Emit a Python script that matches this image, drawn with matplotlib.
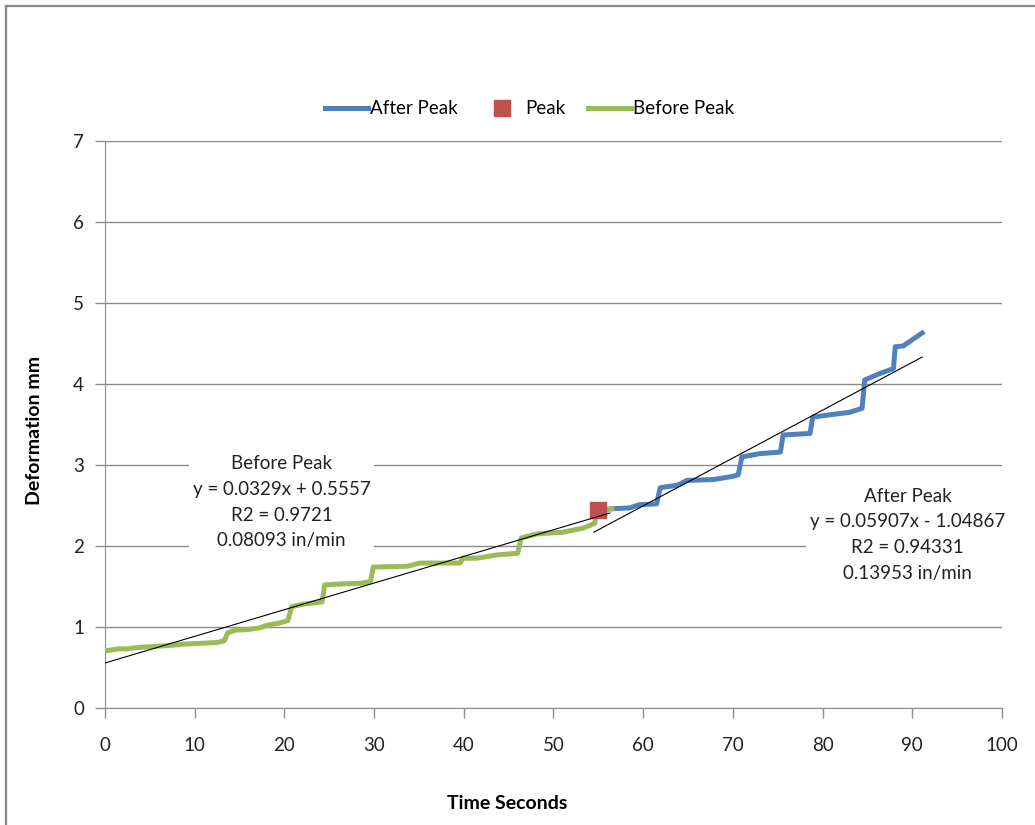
#!/usr/bin/env python3
# -*- coding: utf-8 -*-
"""
Deformation vs time, before / after peak with linear trendlines
"""
# %% imports
import matplotlib.pyplot as plt
from matplotlib.lines import Line2D
import numpy as np

plt.rcParams["font.family"] = ["Lato", "DejaVu Sans"]

# %% data
beforeTime = [0.3, 1.5, 2.5, 3.0, 4.0, 5.5, 7.0, 9.0, 11.0, 12.5, 13.3, 13.7,
              14.5, 16.0, 17.3, 18.0, 19.5, 20.4, 20.8, 22.0, 24.2, 24.5,
              26.0, 28.5, 29.6, 29.9, 33.7, 35.1, 39.6, 39.9, 41.5, 43.7,
              46.0, 46.4, 48.2, 51.0, 53.3, 54.6, 54.8, 56.5]
beforeDef = [0.71, 0.73, 0.73, 0.74, 0.75, 0.76, 0.77, 0.79, 0.80, 0.81, 0.83,
             0.93, 0.96, 0.97, 0.99, 1.02, 1.05, 1.08, 1.25, 1.28, 1.31, 1.52,
             1.53, 1.54, 1.56, 1.74, 1.75, 1.79, 1.79, 1.85, 1.85, 1.89, 1.91,
             2.10, 2.15, 2.17, 2.22, 2.28, 2.42, 2.46]

afterTime = [56.5, 58.5, 59.6, 61.5, 61.9, 63.8, 64.9, 67.8, 70.0, 70.6, 71.0,
             73.0, 75.3, 75.6, 78.6, 78.9, 80.8, 83.0, 84.4, 84.7, 86.4, 87.9,
             88.1, 89.0, 91.1]
afterDef = [2.46, 2.47, 2.51, 2.52, 2.72, 2.75, 2.81, 2.82, 2.86, 2.88, 3.10,
            3.14, 3.16, 3.37, 3.39, 3.59, 3.62, 3.65, 3.70, 4.05, 4.13, 4.19,
            4.46, 4.47, 4.63]

peakTime = [55.0]
peakDef = [2.45]

# trendline fits (from chart labels)
beforeSlope, beforeIcpt = 0.0329, 0.5557
afterSlope, afterIcpt = 0.05907, -1.04867
beforeFitRange = [0.0, 56.3]
afterFitRange = [54.5, 91.1]

beforeLabel = "Before Peak\ny = 0.0329x + 0.5557\nR2 = 0.9721\n0.08093 in/min"
afterLabel = "After Peak\ny = 0.05907x - 1.04867\nR2 = 0.94331\n0.13953 in/min"

# %% plot
blue = "#4F81BD"
green = "#9BBB59"
red = "#C0504D"
grid = "#8C8C8C"
txt = "#222222"
fs = 13.5

fig = plt.figure(figsize=(10.35, 8.25), dpi=100)
ax = fig.add_axes([0.1014, 0.1418, 0.8667, 0.6873])

ax.plot(afterTime, afterDef, color=blue, lw=3.6, label="After Peak",
        solid_joinstyle="round", zorder=3)
ax.plot(peakTime, peakDef, ls="none", marker="s", ms=11, color=red,
        label="Peak", zorder=4)
ax.plot(beforeTime, beforeDef, color=green, lw=3.6, label="Before Peak",
        solid_joinstyle="round", zorder=3)

xb = np.array(beforeFitRange)
xa = np.array(afterFitRange)
ax.plot(xb, beforeSlope * xb + beforeIcpt, color="black", lw=0.8, zorder=5)
ax.plot(xa, afterSlope * xa + afterIcpt, color="black", lw=0.8, zorder=5)

ax.set_xlim(0, 100)
ax.set_ylim(0, 7)
ax.set_xticks(np.arange(0, 101, 10))
ax.set_yticks(np.arange(0, 8, 1))
ax.yaxis.grid(True, color=grid, lw=1)
ax.set_axisbelow(True)
for side in ["top", "right"]:
    ax.spines[side].set_visible(False)
for side in ["left", "bottom"]:
    ax.spines[side].set_color(grid)
ax.tick_params(axis="both", colors=grid, length=7, width=1, labelsize=fs,
               labelcolor=txt)
ax.tick_params(axis="x", pad=14)
ax.tick_params(axis="y", pad=8)

ax.set_xlabel("Time Seconds", fontsize=14, fontweight="bold")
ax.set_ylabel("Deformation mm", fontsize=14, fontweight="bold")
ax.xaxis.set_label_coords(0.448, -0.153)
ax.yaxis.set_label_coords(-0.069, 0.49)

# text boxes hide gridlines behind them
ax.text(19.7, 2.54, beforeLabel, ha="center", va="center", fontsize=fs,
        linespacing=1.62, color=txt, zorder=2,
        bbox=dict(boxstyle="square,pad=0.2", fc="white", ec="none"))
ax.text(89.5, 2.14, afterLabel, ha="center", va="center", fontsize=fs,
        linespacing=1.62, color=txt, zorder=2, clip_on=False,
        bbox=dict(boxstyle="square,pad=0.2", fc="white", ec="none"))

leg = fig.legend(loc="center", bbox_to_anchor=(0.512, 0.868), ncol=3,
                 frameon=False, fontsize=fs, handlelength=2.3,
                 handletextpad=0.1, columnspacing=1.2)

# outer chart frame
fig.add_artist(Line2D([6 / 1035, 6 / 1035], [0, 1 - 6 / 825],
                      transform=fig.transFigure, color="#878787", lw=1.6))
fig.add_artist(Line2D([6 / 1035, 1], [1 - 6 / 825, 1 - 6 / 825],
                      transform=fig.transFigure, color="#878787", lw=1.6))

plt.savefig("out.png", dpi=100)
